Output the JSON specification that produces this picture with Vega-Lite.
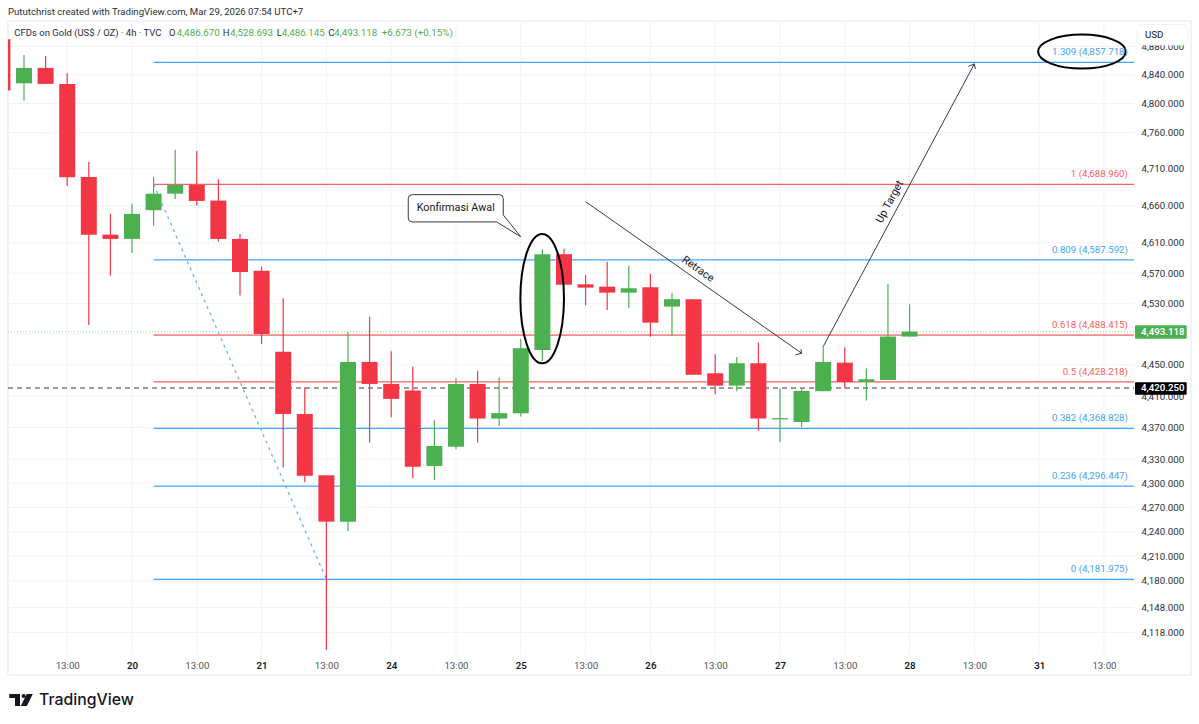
{
  "$schema": "https://vega.github.io/schema/vega-lite/v6.json",
  "autosize": {"type": "none"},
  "width": 1183,
  "height": 654,
  "padding": {"left": 8, "top": 21, "right": 8, "bottom": 49},
  "background": "white",
  "title": {
    "text": "Pututchrist created with TradingView.com, Mar 29, 2026 07:54 UTC+7",
    "anchor": "start",
    "frame": "group",
    "offset": 4,
    "font": "Roboto",
    "fontSize": 9.6,
    "fontWeight": "normal",
    "color": "#2a2e39"
  },
  "view": {"stroke": "#f0f3fa", "strokeWidth": 2},
  "config": {
    "text": {"font": "Roboto"},
    "axis": {"labelFont": "Roboto", "labelFontSize": 9.7, "labelColor": "#2a2e39", "grid": false, "domain": false, "ticks": false}
  },
  "datasets": {
    "candles": [
      {"i": -1, "open": 4890.3, "high": 4890.3, "low": 4818.1, "close": 4818.1},
      {"i": 0, "open": 4828.3, "high": 4868.1, "low": 4804.1, "close": 4849.8},
      {"i": 1, "open": 4849.8, "high": 4866.7, "low": 4827.4, "close": 4827.4},
      {"i": 2, "open": 4827.4, "high": 4842.4, "low": 4686.7, "close": 4698.5},
      {"i": 3, "open": 4699, "high": 4719.5, "low": 4501.7, "close": 4621.1},
      {"i": 4, "open": 4621.1, "high": 4649, "low": 4566.5, "close": 4615.4},
      {"i": 5, "open": 4615.4, "high": 4662.5, "low": 4596.7, "close": 4649},
      {"i": 6, "open": 4654, "high": 4699, "low": 4633.2, "close": 4676.3},
      {"i": 7, "open": 4676.3, "high": 4735.9, "low": 4669.2, "close": 4688.1},
      {"i": 8, "open": 4688.1, "high": 4734.6, "low": 4660.2, "close": 4666.5},
      {"i": 9, "open": 4666.9, "high": 4695.8, "low": 4611.8, "close": 4615.4},
      {"i": 10, "open": 4615.4, "high": 4622, "low": 4540.2, "close": 4571.4},
      {"i": 11, "open": 4573.1, "high": 4578.5, "low": 4477.1, "close": 4490},
      {"i": 12, "open": 4467.1, "high": 4536.8, "low": 4319.5, "close": 4387.2},
      {"i": 13, "open": 4387.2, "high": 4421.3, "low": 4301.2, "close": 4309.4},
      {"i": 14, "open": 4309.9, "high": 4309.9, "low": 4097.1, "close": 4252.4},
      {"i": 15, "open": 4252.4, "high": 4492.6, "low": 4240.9, "close": 4453.8},
      {"i": 16, "open": 4453.8, "high": 4512.6, "low": 4350.9, "close": 4425.5},
      {"i": 17, "open": 4425.5, "high": 4467.7, "low": 4383, "close": 4406.4},
      {"i": 18, "open": 4417, "high": 4447.8, "low": 4306.5, "close": 4320.7},
      {"i": 19, "open": 4321.6, "high": 4379.6, "low": 4304, "close": 4346.7},
      {"i": 20, "open": 4345.8, "high": 4432.8, "low": 4342.6, "close": 4425.5},
      {"i": 21, "open": 4425.5, "high": 4442.2, "low": 4350.9, "close": 4381.3},
      {"i": 22, "open": 4381.3, "high": 4434.1, "low": 4371.9, "close": 4388.2},
      {"i": 23, "open": 4388.2, "high": 4483.6, "low": 4383.8, "close": 4471.5},
      {"i": 24, "open": 4469.3, "high": 4601.6, "low": 4455.1, "close": 4595},
      {"i": 25, "open": 4595, "high": 4602.4, "low": 4554.6, "close": 4554.6},
      {"i": 26, "open": 4555.1, "high": 4567.4, "low": 4527.6, "close": 4550.7},
      {"i": 27, "open": 4552, "high": 4585.1, "low": 4521.4, "close": 4544.1},
      {"i": 28, "open": 4544.1, "high": 4579.4, "low": 4524.4, "close": 4549.9},
      {"i": 29, "open": 4551.2, "high": 4568.8, "low": 4486.5, "close": 4504.8},
      {"i": 30, "open": 4525.8, "high": 4543.7, "low": 4487.8, "close": 4535.5},
      {"i": 31, "open": 4535.5, "high": 4535.5, "low": 4437.4, "close": 4437.4},
      {"i": 32, "open": 4439.2, "high": 4463.8, "low": 4412.4, "close": 4423.3},
      {"i": 33, "open": 4423.3, "high": 4460.3, "low": 4416.2, "close": 4452.1},
      {"i": 34, "open": 4452.1, "high": 4478.8, "low": 4365.9, "close": 4381.3},
      {"i": 35, "open": 4380.3, "high": 4420, "low": 4351.4, "close": 4381.9},
      {"i": 36, "open": 4377, "high": 4420, "low": 4370.3, "close": 4416.6},
      {"i": 37, "open": 4416.2, "high": 4473.6, "low": 4416.2, "close": 4453.8},
      {"i": 38, "open": 4452.9, "high": 4472.8, "low": 4420, "close": 4428},
      {"i": 39, "open": 4428, "high": 4445.2, "low": 4404.2, "close": 4431.5},
      {"i": 40, "open": 4430.6, "high": 4555.5, "low": 4430.6, "close": 4486.67},
      {"i": 41, "open": 4486.67, "high": 4528.693, "low": 4486.145, "close": 4493.118}
    ],
    "fib": [
      {"level": 4857.718, "label": "1.309 (4,857.718)", "tone": "blue"},
      {"level": 4688.96, "label": "1 (4,688.960)", "tone": "red"},
      {"level": 4587.592, "label": "0.809 (4,587.592)", "tone": "blue"},
      {"level": 4488.415, "label": "0.618 (4,488.415)", "tone": "red"},
      {"level": 4428.218, "label": "0.5 (4,428.218)", "tone": "red"},
      {"level": 4368.828, "label": "0.382 (4,368.828)", "tone": "blue"},
      {"level": 4296.447, "label": "0.236 (4,296.447)", "tone": "blue"},
      {"level": 4181.975, "label": "0 (4,181.975)", "tone": "blue"}
    ],
    "legendDark": [
      {"i": -0.449, "price": 4899.2, "label": "CFDs on Gold (US$ / OZ) · 4h · TVC"},
      {"i": 6.713, "price": 4899.2, "label": "O"},
      {"i": 9.199, "price": 4899.2, "label": "H"},
      {"i": 11.699, "price": 4899.2, "label": "L"},
      {"i": 14.088, "price": 4899.2, "label": "C"}
    ],
    "legendGreen": [
      {"i": 7.069, "price": 4899.2, "label": "4,486.670"},
      {"i": 9.537, "price": 4899.2, "label": "4,528.693"},
      {"i": 11.931, "price": 4899.2, "label": "4,486.145"},
      {"i": 14.366, "price": 4899.2, "label": "4,493.118"},
      {"i": 16.56, "price": 4899.2, "label": "+6.673 (+0.15%)"}
    ]
  },
  "layer": [
    {
      "data": {"values": [{"i": 2}, {"i": 5}, {"i": 8}, {"i": 11}, {"i": 14}, {"i": 17}, {"i": 20}, {"i": 23}, {"i": 26}, {"i": 29}, {"i": 32}, {"i": 35}, {"i": 38}, {"i": 41}, {"i": 44}, {"i": 47}, {"i": 50}]},
      "mark": {"type": "rule", "color": "#f0f3fa", "strokeWidth": 1},
      "encoding": {
        "x": {
          "field": "i",
          "type": "quantitative",
          "scale": {"domain": [-0.741, 54.03], "nice": false, "zero": false, "padding": 0},
          "axis": {
            "title": null,
            "values": [2, 5, 8, 11, 14, 17, 20, 23, 26, 29, 32, 35, 38, 41, 44, 47, 50],
            "labelExpr": "['20','21','24','25','26','27','28','31'][(datum.value-5)/6] || '13:00'",
            "labelPadding": -15,
            "labelOverlap": false,
            "labelFlush": false,
            "labelFontWeight": {"condition": {"test": "datum.value % 6 == 5", "value": 600}, "value": 400},
            "labelColor": {"condition": {"test": "datum.value % 6 == 5", "value": "#131722"}, "value": "#50535e"}
          }
        },
        "y": {
          "datum": 4091.3,
          "type": "quantitative",
          "scale": {"type": "log", "domain": [4067.6, 4916.2], "nice": false, "zero": false},
          "axis": {
            "title": null,
            "orient": "right",
            "values": [4880, 4840, 4800, 4760, 4710, 4660, 4610, 4570, 4530, 4450, 4410, 4370, 4330, 4300, 4270, 4240, 4210, 4180, 4148, 4118],
            "format": ",.3f",
            "labelPadding": -50,
            "labelAlign": "left",
            "labelOverlap": false,
            "labelFlush": false
          }
        },
        "y2": {"datum": 4916.2}
      }
    },
    {
      "data": {"values": [{"price": 4880}, {"price": 4840}, {"price": 4800}, {"price": 4760}, {"price": 4710}, {"price": 4660}, {"price": 4610}, {"price": 4570}, {"price": 4530}, {"price": 4490}, {"price": 4450}, {"price": 4410}, {"price": 4370}, {"price": 4330}, {"price": 4300}, {"price": 4270}, {"price": 4240}, {"price": 4210}, {"price": 4180}, {"price": 4148}, {"price": 4118}]},
      "mark": {"type": "rule", "color": "#f0f3fa", "strokeWidth": 1},
      "encoding": {
        "x": {"datum": -0.741, "type": "quantitative"},
        "x2": {"datum": 51.39},
        "y": {"field": "price", "type": "quantitative"}
      }
    },
    {
      "data": {"name": "fib"},
      "mark": {"type": "rule", "strokeWidth": 1.2},
      "encoding": {
        "x": {"datum": 6, "type": "quantitative"},
        "x2": {"datum": 51.39},
        "y": {"field": "level", "type": "quantitative"},
        "color": {"field": "tone", "type": "nominal", "legend": null, "scale": {"domain": ["blue", "red"], "range": ["#42a5f5", "#f7625f"]}}
      }
    },
    {
      "data": {"values": [{"i0": 6, "p0": 4688.96, "i1": 14, "p1": 4181.975}]},
      "mark": {"type": "rule", "color": "#64b5f6", "strokeWidth": 1.3, "strokeDash": [3, 4]},
      "encoding": {
        "x": {"field": "i0", "type": "quantitative"},
        "x2": {"field": "i1"},
        "y": {"field": "p0", "type": "quantitative"},
        "y2": {"field": "p1"}
      }
    },
    {
      "data": {"values": [{"price": 4493.118}]},
      "mark": {"type": "rule", "color": "#a5d6a7", "strokeWidth": 1, "strokeDash": [1, 2]},
      "encoding": {
        "x": {"datum": -0.741, "type": "quantitative"},
        "x2": {"datum": 51.39},
        "y": {"field": "price", "type": "quantitative"}
      }
    },
    {
      "data": {"values": [{"price": 4420.25}]},
      "mark": {"type": "rule", "color": "#363a45", "strokeWidth": 1, "strokeDash": [5, 4]},
      "encoding": {
        "x": {"datum": -0.741, "type": "quantitative"},
        "x2": {"datum": 51.39},
        "y": {"field": "price", "type": "quantitative"}
      }
    },
    {
      "data": {"name": "candles"},
      "mark": {"type": "rule", "strokeWidth": 1.2, "clip": true},
      "encoding": {
        "x": {"field": "i", "type": "quantitative"},
        "y": {"field": "low", "type": "quantitative"},
        "y2": {"field": "high"},
        "color": {"condition": {"test": "datum.close >= datum.open", "value": "#4caf50"}, "value": "#f23645"}
      }
    },
    {
      "data": {"name": "candles"},
      "mark": {"type": "bar", "size": 16, "clip": true},
      "encoding": {
        "x": {"field": "i", "type": "quantitative"},
        "y": {"field": "open", "type": "quantitative"},
        "y2": {"field": "close"},
        "color": {"condition": {"test": "datum.close >= datum.open", "value": "#4caf50"}, "value": "#f23645"}
      }
    },
    {
      "data": {"values": [{"i0": 26, "p0": 4665.5, "i1": 36, "p1": 4465.1}, {"i0": 37, "p0": 4473.6, "i1": 44, "p1": 4855.5}]},
      "mark": {"type": "rule", "color": "#363a45", "strokeWidth": 1},
      "encoding": {
        "x": {"field": "i0", "type": "quantitative"},
        "x2": {"field": "i1"},
        "y": {"field": "p0", "type": "quantitative"},
        "y2": {"field": "p1"}
      }
    },
    {
      "data": {"values": [{"i": 36, "price": 4465.1}]},
      "mark": {"type": "point", "shape": "M-6,1.7 L0,0 L-0.7,-4", "size": 4, "filled": false, "stroke": "#363a45", "strokeWidth": 1, "opacity": 1},
      "encoding": {"x": {"field": "i", "type": "quantitative"}, "y": {"field": "price", "type": "quantitative"}}
    },
    {
      "data": {"values": [{"i": 44, "price": 4855.5}]},
      "mark": {"type": "point", "shape": "M-6,2.5 L0,0 L1,5", "size": 4, "filled": false, "stroke": "#363a45", "strokeWidth": 1, "opacity": 1},
      "encoding": {"x": {"field": "i", "type": "quantitative"}, "y": {"field": "price", "type": "quantitative"}}
    },
    {
      "data": {"values": [{"i": 48.98, "price": 4872.8}]},
      "mark": {"type": "point", "shape": "M-43.8,0 A43.8,17 0 1 1 43.8,0 A43.8,17 0 1 1 -43.8,0 Z", "size": 4, "filled": false, "stroke": "#000000", "strokeWidth": 2, "opacity": 1},
      "encoding": {"x": {"field": "i", "type": "quantitative"}, "y": {"field": "price", "type": "quantitative"}}
    },
    {
      "data": {"values": [{"i": 23.99, "price": 4536.3}]},
      "mark": {"type": "point", "shape": "M-21.8,0 A21.8,64.7 0 1 1 21.8,0 A21.8,64.7 0 1 1 -21.8,0 Z", "size": 4, "filled": false, "stroke": "#000000", "strokeWidth": 2, "opacity": 1},
      "encoding": {"x": {"field": "i", "type": "quantitative"}, "y": {"field": "price", "type": "quantitative"}}
    },
    {
      "data": {"values": [{"i": 17.79, "price": 4675}]},
      "mark": {"type": "point", "shape": "M4,0 H91 Q95,0 95,4 V20.3 L112.4,42 L88.4,27.3 H4 Q0,27.3 0,23.3 V4 Q0,0 4,0 Z", "size": 4, "filled": true, "fill": "white", "stroke": "#363a45", "strokeWidth": 1, "opacity": 1},
      "encoding": {"x": {"field": "i", "type": "quantitative"}, "y": {"field": "price", "type": "quantitative"}}
    },
    {
      "data": {"values": [{"i": 19.99, "price": 4657, "label": "Konfirmasi Awal"}]},
      "mark": {"type": "text", "fontSize": 10.8, "color": "#131722", "align": "center", "baseline": "middle"},
      "encoding": {"x": {"field": "i", "type": "quantitative"}, "y": {"field": "price", "type": "quantitative"}, "text": {"field": "label"}}
    },
    {
      "data": {"values": [{"i": 31.2, "price": 4575, "label": "Retrace"}]},
      "mark": {"type": "text", "fontSize": 10.8, "color": "#131722", "align": "center", "baseline": "middle", "angle": 35},
      "encoding": {"x": {"field": "i", "type": "quantitative"}, "y": {"field": "price", "type": "quantitative"}, "text": {"field": "label"}}
    },
    {
      "data": {"values": [{"i": 40.09, "price": 4665.1, "label": "Up Target"}]},
      "mark": {"type": "text", "fontSize": 10.8, "color": "#131722", "align": "center", "baseline": "middle", "angle": 298},
      "encoding": {"x": {"field": "i", "type": "quantitative"}, "y": {"field": "price", "type": "quantitative"}, "text": {"field": "label"}}
    },
    {
      "data": {"name": "fib"},
      "mark": {"type": "text", "fontSize": 9.7, "align": "right", "baseline": "middle", "dy": -10},
      "encoding": {
        "x": {"datum": 51.11, "type": "quantitative"},
        "y": {"field": "level", "type": "quantitative"},
        "text": {"field": "label"},
        "color": {"field": "tone", "type": "nominal", "legend": null, "scale": {"domain": ["blue", "red"], "range": ["#42a5f5", "#f7625f"]}}
      }
    },
    {
      "data": {"name": "legendDark"},
      "mark": {"type": "text", "fontSize": 9.5, "color": "#2a2e39", "align": "left", "baseline": "middle"},
      "encoding": {"x": {"field": "i", "type": "quantitative"}, "y": {"field": "price", "type": "quantitative"}, "text": {"field": "label"}}
    },
    {
      "data": {"name": "legendGreen"},
      "mark": {"type": "text", "fontSize": 9.8, "color": "#4caf50", "align": "left", "baseline": "middle"},
      "encoding": {"x": {"field": "i", "type": "quantitative"}, "y": {"field": "price", "type": "quantitative"}, "text": {"field": "label"}}
    },
    {
      "data": {"values": [{"i0": 51.55, "i1": 53.89, "p0": 4882.2, "p1": 4911.2}]},
      "mark": {"type": "rect", "fill": "white", "stroke": "#f0f3fa", "strokeWidth": 1, "cornerRadius": 4},
      "encoding": {"x": {"field": "i0", "type": "quantitative"}, "x2": {"field": "i1"}, "y": {"field": "p0", "type": "quantitative"}, "y2": {"field": "p1"}}
    },
    {
      "data": {"values": [{"i": 51.9, "price": 4896.4, "label": "USD"}]},
      "mark": {"type": "text", "fontSize": 9.7, "color": "#131722", "align": "left", "baseline": "middle"},
      "encoding": {"x": {"field": "i", "type": "quantitative"}, "y": {"field": "price", "type": "quantitative"}, "text": {"field": "label"}}
    },
    {
      "data": {"values": [{"i0": 51.44, "i1": 53.83, "p0": 4483.9, "p1": 4501.3, "tag": "last"}, {"i0": 51.44, "i1": 53.83, "p0": 4411.5, "p1": 4427.7, "tag": "mark"}]},
      "mark": {"type": "rect", "cornerRadius": 1},
      "encoding": {
        "x": {"field": "i0", "type": "quantitative"},
        "x2": {"field": "i1"},
        "y": {"field": "p0", "type": "quantitative"},
        "y2": {"field": "p1"},
        "color": {"condition": {"test": "datum.tag == 'last'", "value": "#4caf50"}, "value": "#000000"}
      }
    },
    {
      "data": {"values": [{"i": 51.71, "price": 4493.118, "label": "4,493.118"}, {"i": 51.71, "price": 4420.25, "label": "4,420.250"}]},
      "mark": {"type": "text", "fontSize": 9.7, "fontWeight": 600, "color": "white", "align": "left", "baseline": "middle"},
      "encoding": {"x": {"field": "i", "type": "quantitative"}, "y": {"field": "price", "type": "quantitative"}, "text": {"field": "label"}}
    },
    {
      "data": {"values": [{"i": -0.681, "price": 4045.3}]},
      "mark": {"type": "point", "shape": "M0,0 H10.7 V12 H5.7 V4 H0 Z M12.3,2 A2,2 0 1 0 16.3,2 A2,2 0 1 0 12.3,2 Z M17.5,0 H23.5 L17.5,12 H11.5 Z", "size": 4, "filled": true, "fill": "#131722", "strokeWidth": 0, "opacity": 1},
      "encoding": {"x": {"field": "i", "type": "quantitative"}, "y": {"field": "price", "type": "quantitative"}}
    },
    {
      "data": {"values": [{"i": 0.694, "price": 4038.3, "label": "TradingView"}]},
      "mark": {"type": "text", "font": "Inter", "fontSize": 15.8, "fontWeight": 500, "color": "#131722", "align": "left", "baseline": "middle"},
      "encoding": {"x": {"field": "i", "type": "quantitative"}, "y": {"field": "price", "type": "quantitative"}, "text": {"field": "label"}}
    }
  ]
}
